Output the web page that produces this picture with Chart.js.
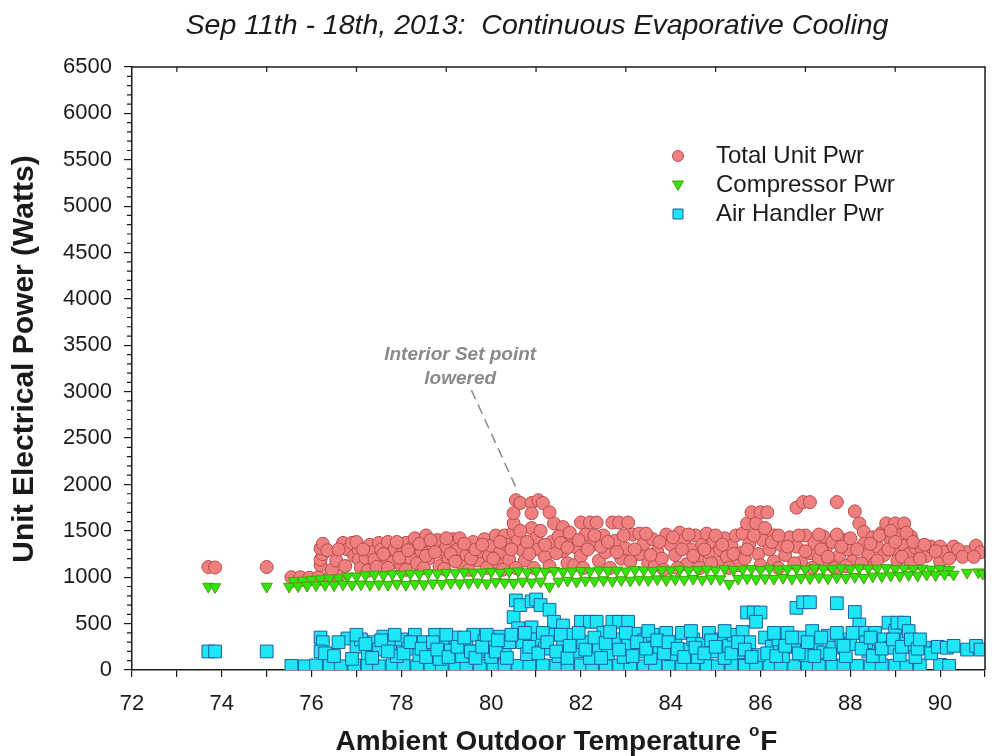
<!DOCTYPE html>
<html>
<head>
<meta charset="utf-8">
<script src="https://cdn.jsdelivr.net/npm/chart.js@4/dist/chart.umd.min.js"></script>
<style>
  html, body { margin: 0; padding: 0; background: #fff; }
  #wrap { width: 995px; height: 756px; }
</style>
</head>
<body>
<div id="wrap"><canvas id="chart" width="995" height="756"></canvas></div>
<script>
// x = ambient outdoor temperature (F), y = watts
const totalPwr = [
    [73.7,1110],[73.85,1105],[75.0,1110],
    [75.55,1000],[75.75,1000],[75.95,995],[76.15,1000],[76.4,1005],[76.6,1010],
    [76.2,1130],[76.2,1190],[76.25,1250],[76.2,1310],[76.25,1360],[76.35,1290],
    [76.7,1370],[76.8,1300],[76.9,1370],[76.95,1230],[77.05,1290],[77.05,1190],[77.1,1100],[77.2,1210],
    [77.3,1350],[77.35,1270],[77.4,1190],[77.5,1370],[77.55,1300],[77.65,1220],[77.7,1380],[77.8,1160],
    [77.85,1300],[78.0,1130],[78.0,1250],[78.1,1370],[78.2,1210],[78.25,1320],[78.3,1420],[78.35,1150],
    [78.45,1280],[78.55,1450],[78.6,1200],[78.7,1350],[78.8,1400],[78.85,1120],[78.9,1270],[79.0,1330],
    [79.05,1200],[79.15,1410],[79.25,1300],[79.3,1420],[79.35,1140],[79.45,1240],[79.55,1340],[79.6,1380],
    [79.7,1180],[79.75,1280],[79.85,1410],[79.95,1230],[80.0,1340],[80.1,1450],[80.15,1140],[80.2,1270],
    [80.3,1450],[80.35,1350],[80.4,1190],
    [80.5,1490],[80.5,1580],[80.5,1690],[80.55,1830],[80.65,1800],[80.6,1400],[80.7,1290],[80.75,1180],
    [80.9,1800],[80.9,1690],[80.9,1530],[81.05,1830],[81.15,1800],[81.0,1420],[81.05,1300],[81.3,1700],
    [81.4,1580],[81.6,1540],[81.2,1220],[81.35,1380],[81.5,1440],[81.6,1280],[81.7,1150],
    [81.8,1410],[81.85,1130],[81.9,1320],[82.0,1590],[82.0,1230],[82.1,1460],[82.2,1590],[82.25,1350],
    [82.35,1590],[82.4,1180],[82.5,1450],[82.55,1270],[82.7,1590],[82.75,1390],[82.85,1590],[82.9,1200],
    [83.0,1310],[83.05,1590],[83.15,1460],[83.3,1470],[83.3,1250],[83.4,1360],[83.5,1150],[83.6,1410],
    [83.65,1130],[83.7,1280],[83.8,1200],[83.9,1460],[84.0,1350],[84.1,1240],[84.2,1480],[84.3,1400],
    [84.35,1140],[84.45,1300],
    [84.55,1450],[84.6,1200],[84.7,1350],[84.8,1470],[84.85,1260],[84.95,1380],[85.05,1160],[85.1,1300],
    [85.2,1420],[85.25,1220],[85.35,1340],[85.45,1450],[85.5,1130],[85.55,1260],
    [85.6,1470],[85.7,1580],[85.8,1700],[85.9,1580],[86.0,1700],[86.15,1700],[86.3,1450],[85.75,1360],
    [85.95,1250],[86.05,1400],[86.2,1300],[86.3,1170],
    [86.45,1350],[86.55,1240],[86.65,1430],[86.8,1750],[86.95,1810],[87.1,1810],[86.8,1330],[86.9,1160],
    [87.0,1450],[87.1,1260],[87.2,1370],[87.3,1200],[87.4,1440],[87.45,1300],[87.55,1140],[87.6,1380],
    [87.7,1810],[87.75,1230],[87.85,1400],[87.95,1300],[88.05,1170],[88.1,1710],[88.2,1580],[88.3,1490],
    [88.3,1360],[88.4,1240],
    [88.5,1430],[88.55,1150],[88.6,1330],[88.7,1480],[88.75,1240],[88.8,1580],[88.9,1400],[88.95,1300],
    [89.0,1580],[89.05,1180],[89.1,1450],[89.2,1580],[89.2,1340],[89.3,1250],[89.35,1440],[89.45,1320],
    [89.45,1150],
    [89.6,1290],[89.7,1230],[89.8,1330],[90.0,1330],[90.0,1170],[90.1,1270],[90.3,1330],[90.6,1270],
    [90.8,1340],[90.9,1270],
    // fill of the main cloud
    [76.45,1080],[76.55,1180],[76.6,1300],[76.75,1120],[77.0,1380],[77.15,1300],[77.25,1070],[77.45,1110],
    [77.6,1250],[77.7,1100],[77.9,1380],[77.95,1210],[78.1,1080],[78.15,1290],[78.4,1360],[78.5,1100],
    [78.55,1230],[78.65,1400],[78.75,1270],[78.95,1090],[79.0,1420],[79.1,1250],[79.2,1170],[79.4,1360],
    [79.5,1080],[79.55,1200],[79.65,1300],[79.8,1350],[79.9,1100],[80.05,1200],[80.2,1380],[80.25,1080],
    [80.45,1300],[80.55,1100],[80.65,1500],[80.8,1380],[80.85,1250],[80.95,1100],[81.1,1500],[81.2,1350],
    [81.3,1120],[81.45,1260],[81.55,1370],[81.7,1320],[81.75,1480],[81.95,1400],[82.05,1100],[82.15,1300],
    [82.3,1450],[82.45,1330],[82.6,1380],[82.65,1100],[82.8,1270],[82.95,1450],[83.1,1170],[83.2,1300],
    [83.45,1470],[83.55,1240],[83.75,1380],[83.85,1080],[84.05,1430],[84.15,1100],[84.25,1300],[84.4,1460],
    [84.5,1230],[84.65,1100],[84.75,1300],[84.9,1150],[85.0,1450],[85.15,1350],[85.3,1100],[85.4,1250],
    [85.65,1200],[85.7,1300],[85.85,1450],[86.0,1130],[86.1,1530],[86.25,1380],[86.4,1100],[86.4,1450],
    [86.6,1330],[86.75,1150],[86.85,1450],[87.0,1280],[87.15,1100],[87.3,1460],[87.35,1300],[87.5,1220],
    [87.65,1100],[87.7,1460],[87.8,1330],[87.9,1120],[88.0,1420],[88.15,1300],[88.25,1150],[88.45,1360],
    [88.6,1180],[88.65,1450],[88.85,1300],[88.9,1500],[89.0,1380],[89.15,1220],[89.25,1480],[89.35,1150],
    [89.4,1380],[89.55,1200],[89.65,1350],[89.9,1280],[90.2,1200],[90.4,1300],[90.5,1220],[90.75,1220]
];

const compressorPwr = [
    [73.7,900],[73.85,895],[75.0,900],
    [75.6,960],[75.8,965],[76.0,975],[76.2,980],[76.4,990],[76.6,990],[76.8,1010],[77.0,1010],[77.2,1025],
    [77.4,1030],[77.6,1025],[77.8,1035],[78.0,1030],[78.2,1040],[78.4,1035],[78.6,1045],[78.8,1040],
    [79.0,1050],[79.2,1045],[79.4,1055],[79.6,1050],[79.8,1055],[80.0,1060],[80.2,1050],[80.4,1060],
    [80.6,1065],[80.8,1055],[81.0,1065],[81.2,1060],[81.4,1070],[81.6,1060],[81.8,1065],[82.0,1070],
    [82.2,1065],[82.4,1075],[82.6,1070],[82.8,1075],[83.0,1065],[83.2,1080],[83.4,1075],[83.6,1070],
    [83.8,1080],[84.0,1075],[84.2,1085],[84.4,1075],[84.6,1080],[84.8,1085],[85.0,1075],[85.2,1090],
    [85.4,1080],[85.6,1085],[85.8,1090],[86.0,1080],[86.2,1095],[86.4,1085],[86.6,1090],[86.8,1095],
    [87.0,1085],[87.2,1100],[87.4,1090],[87.6,1095],[87.8,1100],[88.0,1090],[88.2,1100],[88.4,1095],
    [88.6,1095],[88.8,1100],[89.0,1090],[89.2,1095],[89.4,1090],[89.6,1095],[89.8,1085],[90.0,1090],
    [90.2,1080],
    [75.5,900],[75.7,905],[75.9,910],[76.1,915],[76.3,920],[76.5,915],[76.7,925],[76.9,920],[77.1,925],
    [77.3,920],[77.5,925],[77.7,920],[77.9,930],[78.1,920],[78.3,930],[78.5,925],[78.7,935],[78.9,930],
    [79.1,940],[79.3,935],[79.5,940],[79.7,945],[79.9,935],[80.1,950],[80.3,945],[80.5,940],[80.7,955],
    [80.9,945],[81.1,955],[81.3,900],[81.5,955],[81.7,965],[81.9,955],[82.1,965],[82.3,960],[82.5,970],
    [82.7,960],[82.9,970],[83.1,965],[83.3,975],[83.5,970],[83.7,980],[83.9,970],[84.1,980],[84.3,975],
    [84.5,985],[84.7,975],[84.9,985],[85.1,980],[85.3,930],[85.5,985],[85.7,990],[85.9,980],[86.1,990],
    [86.3,985],[86.5,995],[86.7,985],[86.9,995],[87.1,990],[87.3,1000],[87.5,990],[87.7,1000],[87.9,995],
    [88.1,1005],[88.3,995],[88.5,1010],[88.7,1010],[88.9,1020],[89.1,1015],[89.3,1025],[89.5,1020],
    [89.7,1030],[89.9,1025],[90.1,1035],[90.3,1030],
    [90.6,1050],[90.85,1055],[90.95,1040]
];

const airHandlerPwr = [
    [73.7,200],[73.85,200],[75.0,200],
    // bottom row
    [75.55,45],[75.85,40],[76.1,50],[76.4,45],[76.65,40],[76.95,50],[77.25,45],[77.5,40],[77.8,50],
    [78.05,45],[78.35,40],[78.65,50],[78.9,45],[79.2,40],[79.45,50],[79.75,45],[80.05,40],[80.3,50],
    [80.6,45],[80.85,40],[81.15,50],[81.45,45],[81.7,40],[82.0,50],[82.25,45],[82.55,40],[82.85,50],
    [83.1,45],[83.4,40],[83.65,50],[83.95,45],[84.25,40],[84.5,50],[84.8,45],[85.05,40],[85.35,50],
    [85.65,45],[85.9,40],[86.2,50],[86.45,45],[86.75,40],[87.05,50],[87.3,45],[87.6,40],[87.85,50],
    [88.15,45],[88.45,40],[88.7,50],[89.0,45],[89.25,40],[89.55,50],[90.0,55],[90.2,45],
    // upper cloud
    [76.2,350],[76.25,300],[76.2,200],[76.3,180],
    [76.8,340],[77.0,250],[77.1,330],[77.25,180],[77.4,300],[77.5,220],[77.6,360],[77.75,270],[77.9,150],
    [78.0,330],[78.15,230],[78.3,380],[78.4,160],
    [78.5,300],[78.6,200],[78.75,380],[78.85,120],[78.95,280],[79.1,210],[79.2,350],[79.35,150],[79.45,290],
    [79.6,380],[79.7,200],[79.85,310],[80.0,140],[80.05,250],[80.2,360],[80.3,190],[80.4,300],
    [80.5,570],[80.55,750],[80.65,700],[80.6,450],[80.7,300],[80.8,170],[80.9,740],[81.0,760],[81.1,700],
    [80.9,460],[81.0,330],[81.3,650],[81.4,520],[81.6,480],[81.2,230],[81.35,380],[81.5,150],[81.6,290],
    [81.8,380],[81.9,200],[82.0,520],[82.05,300],[82.2,520],[82.2,130],[82.35,520],[82.4,250],[82.5,400],
    [82.6,180],[82.7,520],[82.75,330],[82.85,520],[82.95,140],[83.05,520],[83.05,280],[83.2,390],[83.3,200],
    [83.4,320],[83.55,130],[83.6,380],[83.75,250],[83.9,400],[84.0,170],[84.1,300],[84.25,400],[84.35,220],
    [84.5,330],
    [84.6,140],[84.7,280],[84.85,400],[84.95,200],[85.1,330],[85.2,130],[85.3,260],[85.4,380],[85.5,190],
    [85.6,410],[85.7,620],[85.85,620],[86.0,620],[85.9,520],[85.75,300],[85.95,160],[86.1,350],[86.25,250],
    [86.4,330],[86.5,150],[86.6,400],[86.8,670],[86.95,730],[87.1,730],[86.75,250],[86.9,350],[87.0,160],
    [87.15,420],[87.25,280],[87.4,190],[87.5,370],[87.6,240],[87.7,720],[87.8,330],[87.9,150],[88.0,280],
    [88.1,625],[88.2,490],[88.3,400],[88.4,200],[88.35,300],
    [88.55,400],[88.65,150],[88.75,330],[88.85,510],[88.9,240],[89.0,420],[89.05,510],[89.1,160],[89.2,510],
    [89.25,330],[89.3,420],[89.4,250],[89.45,140],
    [89.65,240],[89.8,180],[89.95,250],[90.15,240],[90.3,260],[90.6,220],[90.8,260],[90.9,220],
    // fill of the cloud
    [76.5,150],[76.6,300],[76.9,120],[77.0,380],[77.2,280],[77.35,130],[77.55,320],[77.7,200],[77.85,380],
    [78.05,180],[78.2,300],[78.45,230],[78.55,140],[78.7,300],[78.8,220],[79.0,380],[79.05,140],[79.25,250],
    [79.4,350],[79.55,200],[79.65,130],[79.8,250],[79.9,380],[80.1,200],[80.15,320],[80.35,130],[80.45,380],
    [80.75,400],[80.85,250],[81.05,180],[81.15,400],[81.25,300],[81.45,200],[81.55,380],[81.7,130],[81.75,260],
    [81.95,400],[82.1,220],[82.3,350],[82.45,130],[82.55,290],[82.65,410],[82.85,220],[83.0,400],[83.15,150],
    [83.25,300],[83.45,230],[83.5,420],[83.7,320],[83.85,180],[83.95,300],[84.15,230],[84.3,140],[84.45,420],
    [84.55,240],[84.75,180],[84.9,320],[85.0,250],[85.2,420],[85.35,180],[85.5,300],[85.65,220],[85.8,140],
    [86.15,180],[86.3,400],[86.35,150],[86.55,260],[86.7,350],[86.85,180],[87.05,300],[87.2,150],[87.35,350],
    [87.55,170],[87.7,400],[87.85,260],[88.05,400],[88.25,230],[88.45,350],[88.5,150],[88.7,230],[88.95,330],
    [89.15,250],[89.35,330],[89.5,230],[89.55,330]
];

const seriesNames = ['Total Unit Pwr', 'Compressor Pwr', 'Air Handler Pwr'];
const xTicks = { min: 72, max: 91, step: 1 };
const yTicks = { min: 0, max: 6500, step: 500, minor: 100 };

const ink = '#1a1a1a';
const FONT = '"Liberation Sans", Arial, sans-serif';
const toXY = arr => arr.map(p => ({ x: p[0], y: p[1] }));

// frame, minor ticks, titles, legend, annotation
const extras = {
    id: 'extras',
    afterDraw(chart) {
        const ctx = chart.ctx;
        const a = chart.chartArea;
        const xs = chart.scales.x, ys = chart.scales.y;
        ctx.save();
        ctx.strokeStyle = ink;
        ctx.lineWidth = 1.5;
        ctx.beginPath();
        ctx.moveTo(a.left, a.top); ctx.lineTo(a.right, a.top); ctx.lineTo(a.right, a.bottom);
        ctx.stroke();
        ctx.lineWidth = 1.2;
        ctx.beginPath();
        for (let t = 73; t < xTicks.max; t += 2) {
            const px = xs.getPixelForValue(t);
            ctx.moveTo(px, a.top); ctx.lineTo(px, a.top + 5);
        }
        for (let v = yTicks.minor; v < yTicks.max; v += yTicks.minor) {
            if (v % yTicks.step === 0) continue;
            const py = ys.getPixelForValue(v);
            ctx.moveTo(a.left - 5, py); ctx.lineTo(a.left, py);
        }
        ctx.stroke();

        // title
        ctx.fillStyle = ink;
        ctx.textAlign = 'center';
        ctx.textBaseline = 'middle';
        ctx.font = 'italic 28.5px ' + FONT;
        ctx.fillText('Sep 11th - 18th, 2013:  Continuous Evaporative Cooling', 537, 26);

        // y title
        ctx.save();
        ctx.translate(25, 359);
        ctx.rotate(-Math.PI / 2);
        ctx.font = 'bold 30px ' + FONT;
        ctx.fillText('Unit Electrical Power (Watts)', 0, 0);
        ctx.restore();

        // x title with superscript degree
        const main = 'Ambient Outdoor Temperature ';
        ctx.font = 'bold 28px ' + FONT;
        const w1 = ctx.measureText(main).width;
        const wF = ctx.measureText('F').width;
        ctx.font = 'bold 17px ' + FONT;
        const wo = ctx.measureText('o').width;
        const sx = 556 - (w1 + wo + wF) / 2;
        ctx.textAlign = 'left';
        ctx.textBaseline = 'alphabetic';
        ctx.font = 'bold 28px ' + FONT;
        ctx.fillText(main, sx, 750);
        ctx.font = 'bold 17px ' + FONT;
        ctx.fillText('o', sx + w1, 736);
        ctx.font = 'bold 28px ' + FONT;
        ctx.fillText('F', sx + w1 + wo + 1, 750);

        // legend
        const lx = 678, rows = [156, 185, 214];
        chart.data.datasets.forEach((ds, i) => {
            ctx.fillStyle = ds.backgroundColor;
            ctx.strokeStyle = ds.borderColor;
            ctx.lineWidth = 1;
            ctx.beginPath();
            const cy = rows[i];
            if (i === 0) {
                ctx.arc(lx, cy, 5.5, 0, Math.PI * 2);
            } else if (i === 1) {
                ctx.moveTo(lx - 5.5, cy - 4); ctx.lineTo(lx + 5.5, cy - 4); ctx.lineTo(lx, cy + 5.5); ctx.closePath();
            } else {
                ctx.rect(lx - 5, cy - 5, 10, 10);
            }
            ctx.fill(); ctx.stroke();
            ctx.fillStyle = ink;
            ctx.font = '24px ' + FONT;
            ctx.textAlign = 'left';
            ctx.textBaseline = 'middle';
            ctx.fillText(ds.label, 716, cy);
        });

        // annotation
        ctx.fillStyle = '#8a8a8a';
        ctx.strokeStyle = '#8a8a8a';
        ctx.font = 'italic bold 19px ' + FONT;
        ctx.textAlign = 'center';
        ctx.fillText('Interior Set point', xs.getPixelForValue(79.31), ys.getPixelForValue(3395));
        ctx.fillText('lowered', xs.getPixelForValue(79.31), ys.getPixelForValue(3137));
        ctx.lineWidth = 1.5;
        ctx.setLineDash([10, 6]);
        ctx.beginPath();
        ctx.moveTo(xs.getPixelForValue(79.56), ys.getPixelForValue(3017));
        ctx.lineTo(xs.getPixelForValue(80.55), ys.getPixelForValue(1970));
        ctx.stroke();
        ctx.restore();
    }
};

Chart.defaults.font.family = FONT;
Chart.defaults.color = ink;

new Chart(document.getElementById('chart'), {
    type: 'scatter',
    data: {
        datasets: [{
            label: seriesNames[0],
            data: toXY(totalPwr),
            pointStyle: 'circle',
            pointRadius: 6.5,
            backgroundColor: '#f08080',
            borderColor: '#b94a4a',
            borderWidth: 1,
            order: 2
        }, {
            label: seriesNames[1],
            data: toXY(compressorPwr),
            pointStyle: 'triangle',
            pointRotation: 180,
            pointRadius: 6.5,
            backgroundColor: '#2ee60a',
            borderColor: '#4f9a10',
            borderWidth: 1,
            order: 1
        }, {
            label: seriesNames[2],
            data: toXY(airHandlerPwr),
            pointStyle: 'rect',
            pointRadius: 9,
            backgroundColor: '#1ee6f5',
            borderColor: '#1a5fa0',
            borderWidth: 1,
            order: 3
        }]
    },
    options: {
        responsive: false,
        animation: false,
        devicePixelRatio: 1,
        layout: { padding: { top: 67, right: 9, left: 0, bottom: 0 } },
        plugins: { legend: { display: false }, tooltip: { enabled: false } },
        scales: {
            x: {
                type: 'linear',
                min: xTicks.min,
                max: xTicks.max,
                afterFit: s => { s.height = 86; s.paddingLeft = 0; s.paddingRight = 0; },
                ticks: {
                    stepSize: xTicks.step,
                    autoSkip: false,
                    maxRotation: 0,
                    padding: 14,
                    font: { size: 22 },
                    color: ink,
                    callback: v => (v % 2 === 0 && v < xTicks.max) ? String(v) : ''
                },
                grid: { drawOnChartArea: false, drawTicks: true, tickLength: 7, color: ink, lineWidth: 1.2 },
                border: { display: true, color: ink, width: 1.5 }
            },
            y: {
                type: 'linear',
                min: yTicks.min,
                max: yTicks.max,
                afterFit: s => { s.width = 132; },
                ticks: {
                    stepSize: yTicks.step,
                    padding: 12,
                    font: { size: 22 },
                    color: ink,
                    callback: v => String(v)
                },
                grid: { drawOnChartArea: false, drawTicks: true, tickLength: 8, color: ink, lineWidth: 1.2 },
                border: { display: true, color: ink, width: 1.5 }
            }
        }
    },
    plugins: [extras]
});
</script>
</body>
</html>
